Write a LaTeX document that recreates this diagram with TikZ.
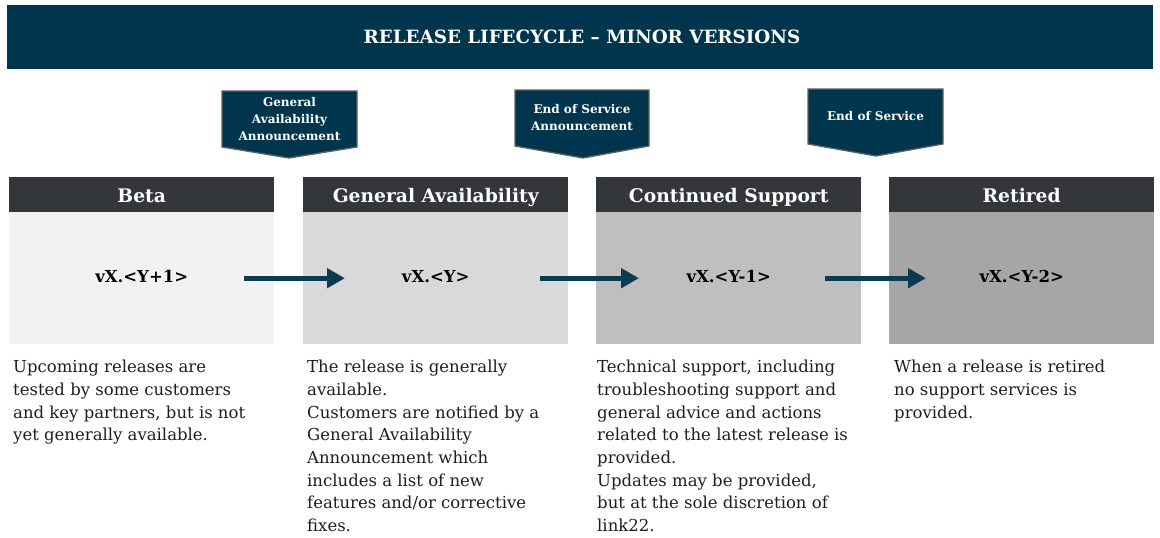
\documentclass[tikz,border=0pt]{standalone}
\usepackage{fontspec}
\setmainfont{DejaVu Serif}
\usetikzlibrary{arrows.meta}
\definecolor{navy}{RGB}{0,54,77}
\definecolor{hdrgray}{RGB}{52,55,57}
\definecolor{arrowblue}{RGB}{12,58,80}
\definecolor{calloutedge}{RGB}{95,95,95}
\definecolor{bodyA}{RGB}{242,242,242}
\definecolor{bodyB}{RGB}{217,217,217}
\definecolor{bodyC}{RGB}{191,191,191}
\definecolor{bodyD}{RGB}{166,166,166}
\definecolor{txt}{RGB}{30,30,30}
\tikzset{
  hdr/.style={fill=hdrgray, text=white, anchor=north west, minimum width=265pt, minimum height=36pt, inner sep=0pt, text height=14pt, text depth=0pt, font=\bfseries\fontsize{18.7}{21}\selectfont},
  phasebody/.style={anchor=north west, minimum width=265pt, minimum height=132pt, inner sep=0pt, text height=12pt, text depth=3pt, font=\bfseries\fontsize{16.5}{19}\selectfont, text=black},
  desc/.style={anchor=north west, inner sep=0pt, align=left, text=txt, font=\fontsize{16.5}{22.7}\selectfont},
  callouttext/.style={text=white, align=center, inner sep=0pt, font=\bfseries\fontsize{12}{17}\selectfont},
  callout/.style={fill=navy, draw=calloutedge, line width=1.3pt},
  flow/.style={draw=arrowblue, line width=5pt, -{Triangle[length=18pt,width=19pt]}}
}
\begin{document}
\begin{tikzpicture}[x=1pt,y=-1pt]
\useasboundingbox (0,0) rectangle (1160,538);
% title bar
\fill[navy] (7,5) rectangle (1153,69);
\node[text=white, font=\bfseries\fontsize{18.3}{20}\selectfont] (title) at (582,37) {RELEASE LIFECYCLE – MINOR VERSIONS};

% callouts
\draw[callout] (222,91) -- (357,91) -- (357,147) -- (289,158) -- (222,147) -- cycle;
\node[callouttext] (c1) at (289.5,119) {General\\Availability\\Announcement};
\draw[callout] (515,90) -- (649,90) -- (649,146) -- (583,158) -- (515,146) -- cycle;
\node[callouttext] (c2) at (582,118) {End of Service\\Announcement};
\draw[callout] (808,89) -- (943,89) -- (943,144) -- (876,156) -- (808,144) -- cycle;
\node[callouttext] (c3) at (875.5,116) {End of Service};

% headers
\node[hdr] (h1) at (9,177) {Beta};
\node[hdr] (h2) at (303,177) {General Availability};
\node[hdr] (h3) at (596,177) {Continued Support};
\node[hdr] (h4) at (889,177) {Retired};

% bodies
\node[phasebody, fill=bodyA] (b1) at (9,212) {vX.<Y+1>};
\node[phasebody, fill=bodyB] (b2) at (303,212) {vX.<Y>};
\node[phasebody, fill=bodyC] (b3) at (596,212) {vX.<Y-1>};
\node[phasebody, fill=bodyD] (b4) at (889,212) {vX.<Y-2>};

% arrows
\draw[flow] ([xshift=-30pt]b1.east) -- ([xshift=42pt]b2.west);
\draw[flow] ([xshift=-28pt]b2.east) -- ([xshift=43pt]b3.west);
\draw[flow] ([xshift=-36pt]b3.east) -- ([xshift=37pt]b4.west);

% descriptions
\node[desc] (d1) at (13,360) {Upcoming releases are\\tested by some customers\\and key partners, but is not\\yet generally available.};
\node[desc] (d2) at (307,360) {The release is generally\\available.\\Customers are notified by a\\General Availability\\Announcement which\\includes a list of new\\features and/or corrective\\fixes.};
\node[desc] (d3) at (597,360) {Technical support, including\\troubleshooting support and\\general advice and actions\\related to the latest release is\\provided.\\Updates may be provided,\\but at the sole discretion of\\link22.};
\node[desc] (d4) at (894,360) {When a release is retired\\no support services is\\provided.};
\end{tikzpicture}
\end{document}
